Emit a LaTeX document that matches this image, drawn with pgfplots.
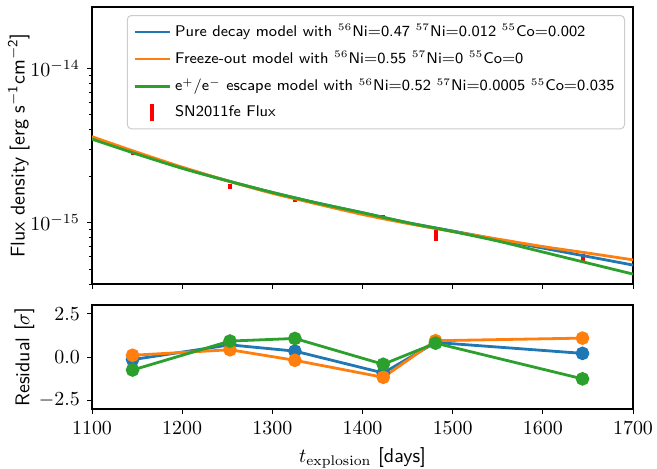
\documentclass[border=0pt]{standalone}
\usepackage{pgfplots}
\pgfplotsset{compat=1.18}

\definecolor{tabblue}{HTML}{1F77B4}
\definecolor{taborange}{HTML}{FF7F0E}
\definecolor{tabgreen}{HTML}{2CA02C}

% Model light curves (flux density vs days since explosion)
\pgfplotstableread{
t      pure      freeze    escape
1100   3.53e-15  3.61e-15  3.48e-15
1150   2.82e-15  2.86e-15  2.78e-15
1200   2.27e-15  2.29e-15  2.25e-15
1250   1.87e-15  1.87e-15  1.87e-15
1300   1.57e-15  1.55e-15  1.57e-15
1350   1.34e-15  1.32e-15  1.34e-15
1400   1.16e-15  1.13e-15  1.16e-15
1450   1.00e-15  9.88e-16  1.00e-15
1500   8.83e-16  8.76e-16  8.76e-16
1550   7.77e-16  7.83e-16  7.60e-16
1600   6.84e-16  7.00e-16  6.45e-16
1650   6.03e-16  6.35e-16  5.47e-16
1700   5.31e-16  5.74e-16  4.64e-16
}\models

% SN2011fe measurements with relative uncertainties
\pgfplotstableread{
t      flux      rerr
1145   2.80e-15  0.015
1253   1.71e-15  0.036
1325   1.38e-15  0.015
1423   1.08e-15  0.033
1481   8.28e-16  0.080
1644   5.91e-16  0.053
}\fluxdata

% Residuals in units of sigma
\pgfplotstableread{
t      pure    freeze  escape
1145   -0.15   0.10    -0.75
1253    0.70   0.42     0.92
1325    0.34  -0.19     1.07
1423   -0.92  -1.17    -0.42
1481    0.84   0.94     0.80
1644    0.21   1.09    -1.26
}\resid

\pgfplotsset{
  common/.style={
    scale only axis,
    width=270.5bp,
    xmin=1100, xmax=1700,
    xtick={1100,1200,...,1700},
    xticklabel style={/pgf/number format/1000 sep={}},
    tick align=outside,
    xtick pos=left, ytick pos=left,
    major tick length=2.6bp,
    minor tick length=1.6bp,
    axis line style={line width=0.6bp},
    every tick/.style={black, line width=0.5bp},
    tick label style={font=\normalsize},
    label style={font=\sffamily\normalsize},
  },
}

\begin{document}
\begin{tikzpicture}
\begin{axis}[
  common,
  name=top,
  height=138.5bp,
  ymode=log,
  ymin=4e-16, ymax=2.5e-14,
  xticklabels={},
  ylabel={Flux density [erg s$^{\mathsf{-1}}$cm$^{\mathsf{-2}}$]},
  ylabel style={at={(axis description cs:-0.135,0.5)}, anchor=center},
  legend style={
    at={(1,1)}, anchor=north east, xshift=-4bp, yshift=-4bp,
    draw=black!20, rounded corners=2bp, line width=0.5bp,
    font=\sffamily\fontsize{7.75}{9.5}\selectfont, row sep=2bp,
    inner xsep=3bp, inner ysep=2.5bp,
  },
  legend cell align=left,
  legend image code/.code={\draw[#1] (0bp,0bp) -- (17.5bp,0bp);},
]
\addplot[draw=none, mark=none, forget plot,
  error bars/.cd, y dir=both, y explicit relative, error mark=none,
  error bar style={red, line width=2bp}]
  table[x=t, y=flux, y error=rerr] {\fluxdata};

\addplot[tabblue, line width=1.4bp, smooth] table[x=t, y=pure] {\models};
\addlegendentry{Pure decay model with $^{56}$Ni$=$0.47 $^{57}$Ni$=$0.012 $^{55}$Co$=$0.002}
\addplot[taborange, line width=1.4bp, smooth] table[x=t, y=freeze] {\models};
\addlegendentry{Freeze-out model with $^{56}$Ni$=$0.55 $^{57}$Ni$=$0 $^{55}$Co$=$0}
\addplot[tabgreen, line width=1.4bp, smooth] table[x=t, y=escape] {\models};
\addlegendentry{e$^+$/e$^-$ escape model with $^{56}$Ni$=$0.52 $^{57}$Ni$=$0.0005 $^{55}$Co$=$0.035}

\addlegendimage{legend image code/.code={\draw[red, line width=2bp] (8.75bp,-4.25bp) -- (8.75bp,4.25bp);}}
\addlegendentry{SN2011fe Flux}
\end{axis}

\begin{axis}[
  common,
  name=bottom,
  at={(top.south west)}, anchor=north west, yshift=-10.5bp,
  height=52bp,
  ymin=-3, ymax=3,
  ytick={-2.5,0,2.5},
  yticklabel style={/pgf/number format/.cd, fixed, fixed zerofill, precision=1},
  ylabel={Residual [$\sigma$]},
  ylabel style={at={(axis description cs:-0.125,0.5)}, anchor=center},
  xlabel={$t_{\mathrm{explosion}}$ [days]},
]
\addplot[tabblue, line width=1.4bp, mark=*, mark size=2.7bp] table[x=t, y=pure] {\resid};
\addplot[taborange, line width=1.4bp, mark=*, mark size=2.7bp] table[x=t, y=freeze] {\resid};
\addplot[tabgreen, line width=1.4bp, mark=*, mark size=2.7bp] table[x=t, y=escape] {\resid};
\end{axis}

% fixed page frame around both panels
\pgfresetboundingbox
\path ([xshift=-46bp, yshift=3.5bp]top.north west)
  rectangle ([xshift=12bp, yshift=-92bp]top.south east);
\end{tikzpicture}
\end{document}
